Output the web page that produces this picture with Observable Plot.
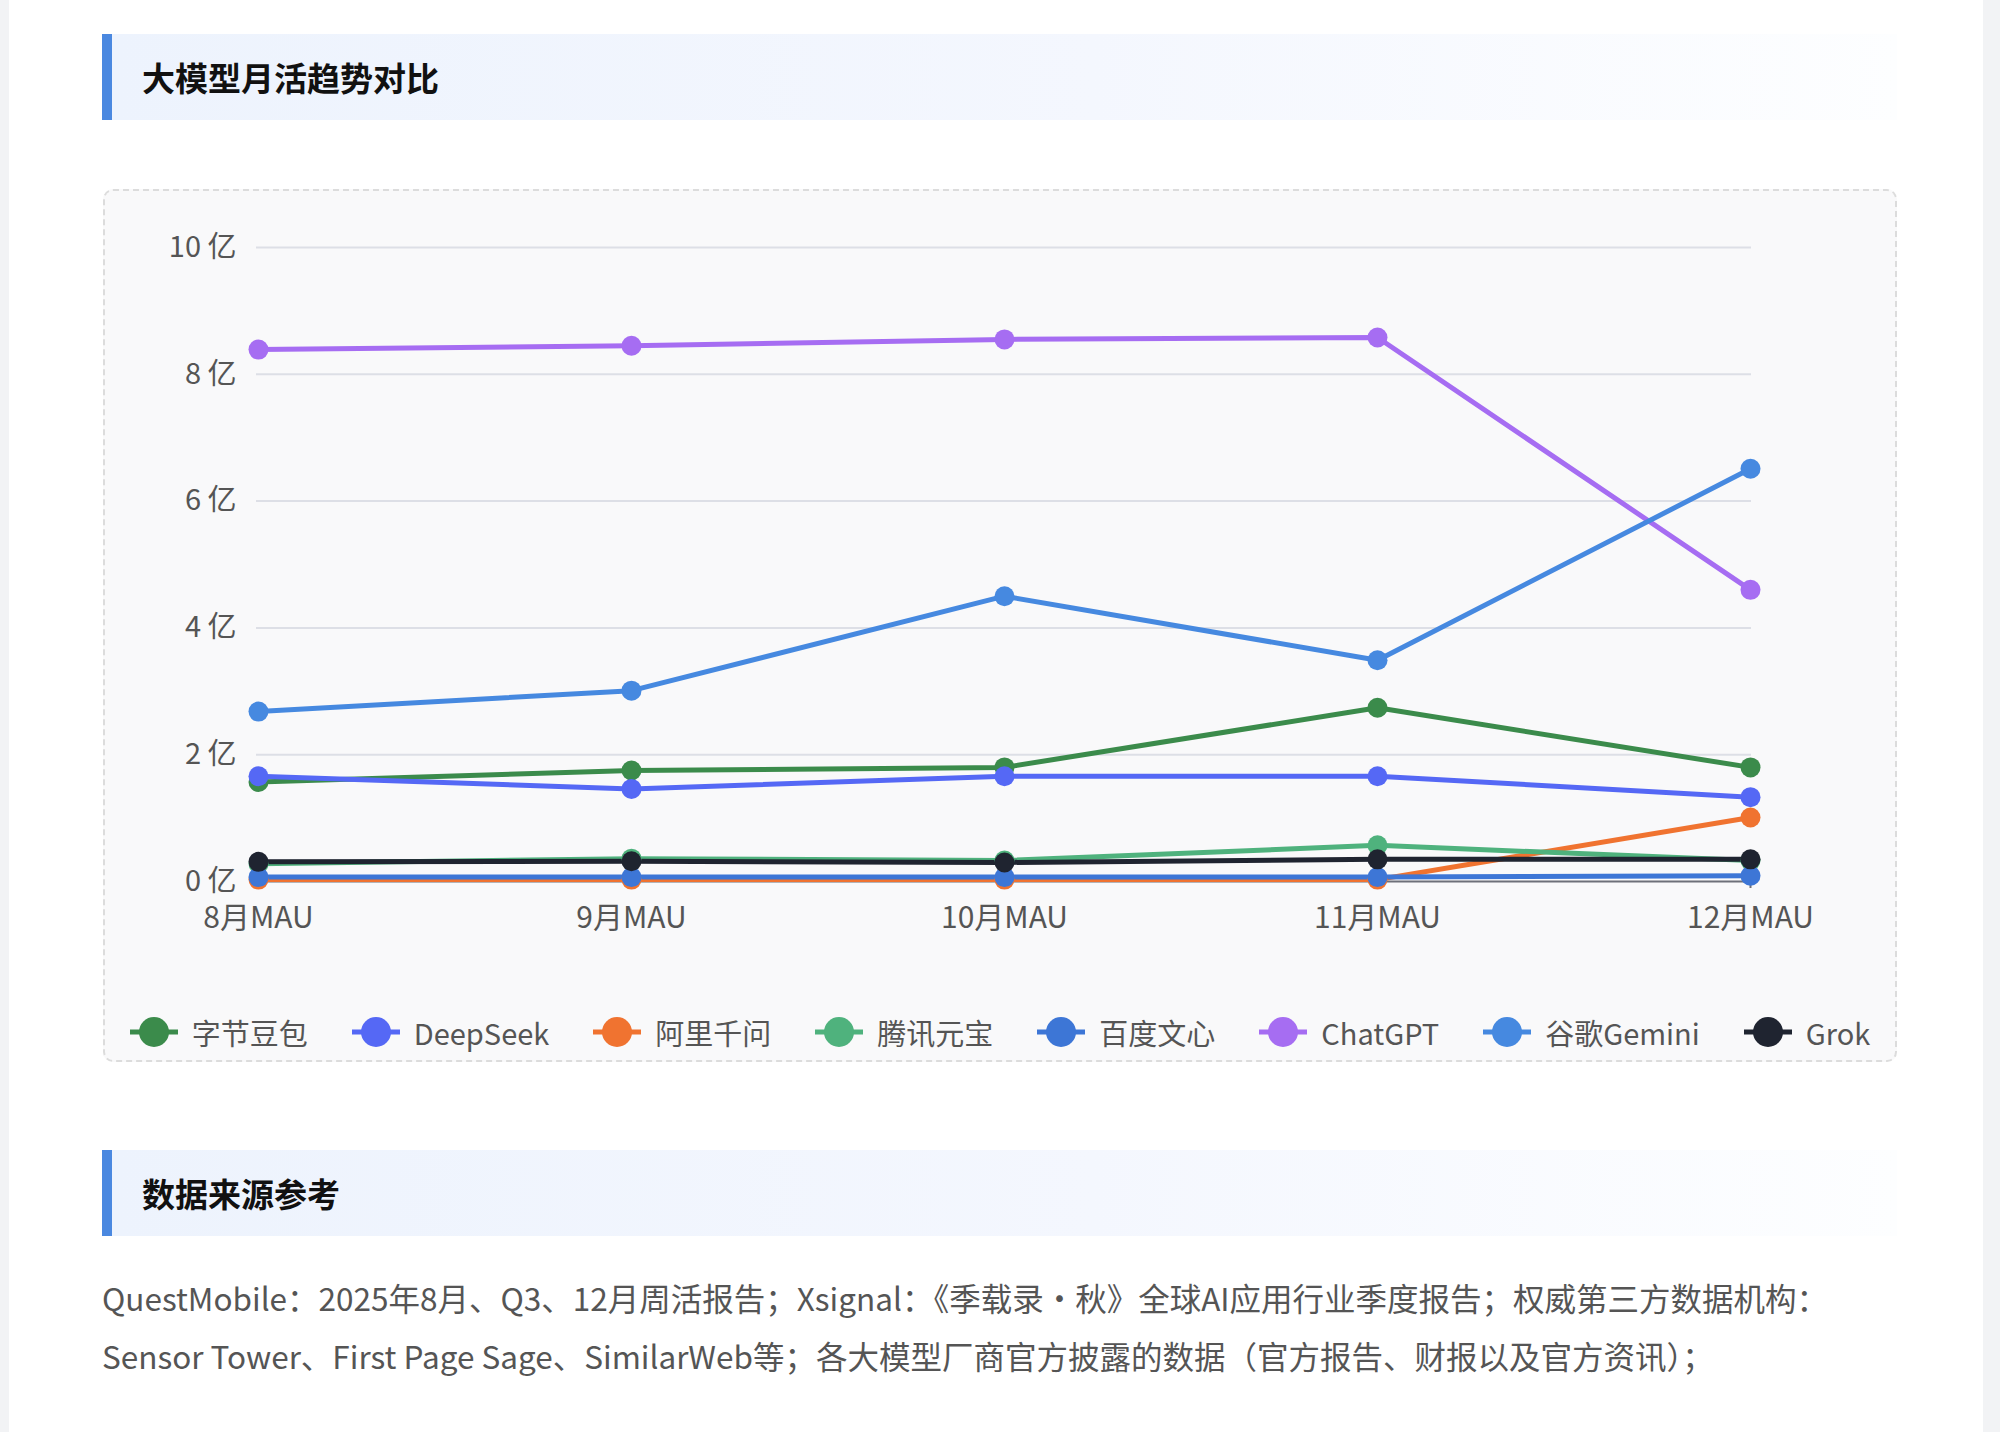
<!DOCTYPE html>
<html>
<head>
<meta charset="utf-8">
<script src="https://cdn.jsdelivr.net/npm/d3@7"></script>
<script src="https://cdn.jsdelivr.net/npm/@observablehq/plot@0.6"></script>
<style>
  html, body { margin: 0; padding: 0; }
  body { width: 2000px; height: 1432px; background: #f2f3f5; position: relative; overflow: hidden;
         font-family: "Noto Sans CJK SC", "Noto Sans", sans-serif; }
  #page { position: absolute; left: 9px; top: 0; width: 1974px; height: 1432px; background: #ffffff; }
  .sec-title { position: absolute; left: 102px; width: 1795px; height: 86px; box-sizing: border-box;
               border-left: 10px solid #4a88e0;
               background: linear-gradient(90deg, #edf3fd 0%, #f4f7fe 55%, #fdfeff 100%); }
  .sec-title span { position: absolute; left: 30px; top: 50%; transform: translateY(-50%);
                    font-size: 33px; font-weight: 700; color: #111; letter-spacing: 0px; }
  #box { position: absolute; left: 103px; top: 189px; width: 1794px; height: 873px; box-sizing: border-box;
         border: 2px dashed #dcdcdc; border-radius: 10px; background: #f9f9fa; }
  #chart { position: absolute; left: 103px; top: 189px; }
  #legend { position: absolute; left: 103px; width: 1794px; top: 1012px; height: 40px;
            display: flex; justify-content: center; align-items: center; gap: 44px; }
  .li { display: flex; align-items: center; gap: 14px; font-size: 29px; color: #555; white-space: nowrap; }
  .li svg { display: block; }
  #src { position: absolute; left: 102px; top: 1268px; width: 1795px; font-size: 31.5px; line-height: 58px; color: #555; white-space: nowrap; }
</style>
</head>
<body>
<div id="page"></div>
<div class="sec-title" style="top:34px"><span>大模型月活趋势对比</span></div>
<div id="box"></div>
<div id="chart"></div>
<div id="legend"></div>
<div class="sec-title" style="top:1150px"><span>数据来源参考</span></div>
<div id="src">QuestMobile：2025年8月、Q3、12月周活报告；Xsignal：《季载录·秋》全球AI应用行业季度报告；权威第三方数据机构：<br>Sensor Tower、First Page Sage、SimilarWeb等；各大模型厂商官方披露的数据（官方报告、财报以及官方资讯）；</div>
<script>
// ---- data (单位：亿) ----
const months = ["8月MAU", "9月MAU", "10月MAU", "11月MAU", "12月MAU"];
const seriesNames = ["字节豆包", "DeepSeek", "阿里千问", "腾讯元宝", "百度文心", "ChatGPT", "谷歌Gemini", "Grok"];
const seriesColors = ["#3b8b4b", "#5568f5", "#f07330", "#4fb27d", "#3d76d6", "#a66df2", "#4689e0", "#1f2430"];
const doubao   = [1.57, 1.75, 1.80, 2.74, 1.80];
const deepseek = [1.66, 1.46, 1.66, 1.66, 1.33];
const qwen     = [0.03, 0.03, 0.03, 0.03, 1.01];
const yuanbao  = [0.28, 0.36, 0.33, 0.57, 0.33];
const wenxin   = [0.07, 0.07, 0.07, 0.07, 0.09];
const chatgpt  = [8.39, 8.45, 8.55, 8.58, 4.60];
const gemini   = [2.68, 3.01, 4.50, 3.49, 6.51];
const grok     = [0.31, 0.32, 0.30, 0.35, 0.35];
const yTicks = [0, 2, 4, 6, 8, 10];

const allSeries = [doubao, deepseek, qwen, yuanbao, wenxin, chatgpt, gemini, grok];
const data = [];
seriesNames.forEach((name, i) => {
  allSeries[i].forEach((v, j) => data.push({series: name, month: months[j], value: v}));
});

const W = 1794, H = 800;
const chart = Plot.plot({
  width: W,
  height: H,
  marginLeft: 153,
  marginRight: 146,
  marginTop: 58,
  marginBottom: 108,
  style: { background: "transparent", fontFamily: "'Noto Sans CJK SC', sans-serif", fontSize: "30px", color: "#555" },
  x: { type: "point", domain: months, padding: 0, label: null },
  y: { domain: [0, 10], ticks: yTicks, label: null },
  color: { domain: seriesNames, range: seriesColors },
  marks: [
    Plot.gridY(yTicks.filter(d => d > 0), { stroke: "#dddfe6", strokeOpacity: 1, strokeWidth: 2 }),
    Plot.axisY({ ticks: yTicks, tickSize: 0, tickPadding: 20, tickFormat: d => d + " 亿", fill: "#555", fontSize: 29 }),
    Plot.ruleY([0], { stroke: "#6e7079", strokeWidth: 2 }),
    Plot.axisX({ tickSize: 7, tickPadding: 18, stroke: "#6e7079", strokeWidth: 2, fill: "#555", fontSize: 30 }),
    Plot.line(data, { x: "month", y: "value", z: "series", stroke: "series", strokeWidth: 5 }),
    Plot.dot(data, { x: "month", y: "value", fill: "series", r: 10, stroke: "none" })
  ]
});
document.getElementById("chart").appendChild(chart);

// legend
const legend = document.getElementById("legend");
seriesNames.forEach((name, i) => {
  const item = document.createElement("div");
  item.className = "li";
  item.innerHTML = `<svg width="48" height="32" viewBox="0 0 48 32"><line x1="0" y1="16" x2="48" y2="16" stroke="${seriesColors[i]}" stroke-width="5"/><circle cx="24" cy="16" r="15" fill="${seriesColors[i]}"/></svg><span>${name}</span>`;
  legend.appendChild(item);
});
</script>
</body>
</html>
